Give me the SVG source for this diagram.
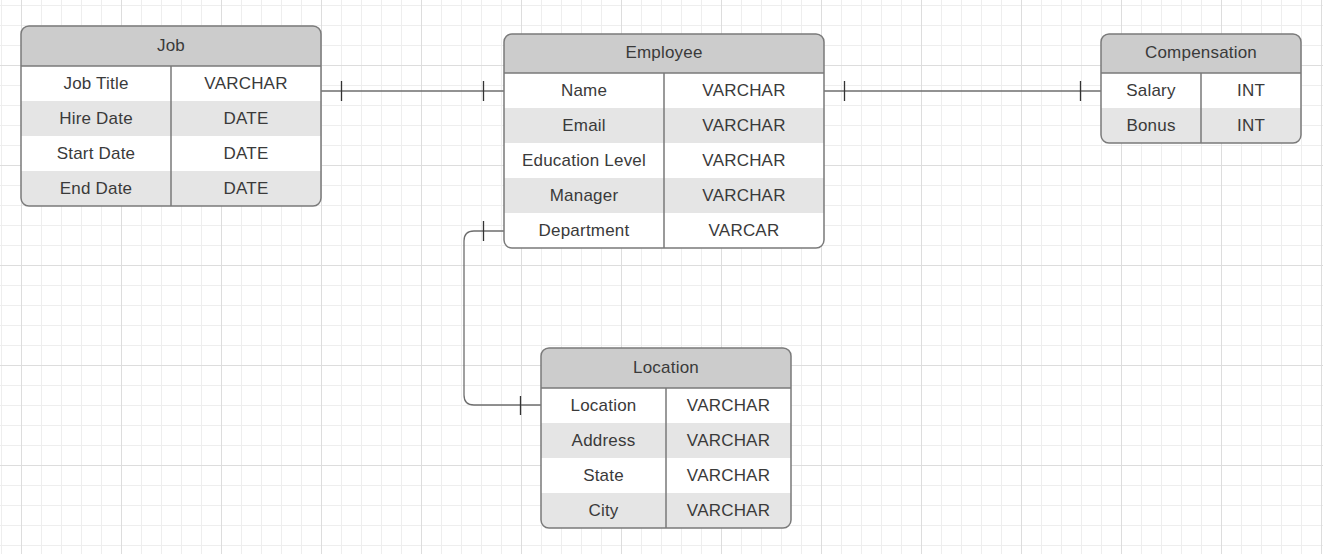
<svg xmlns="http://www.w3.org/2000/svg" width="1323" height="554" viewBox="0 0 1323 554">
<style>
.txt{font-family:"Liberation Sans",Arial,sans-serif;font-size:17px;fill:#3a3a3a;text-anchor:middle;letter-spacing:0.2px}
.frame{fill:none;stroke:#7a7a7a;stroke-width:1.5}
.sep{stroke:#7a7a7a;stroke-width:1.5}
.hdr{fill:#cccccc}
.alt{fill:#e5e5e5}
.bg{fill:#ffffff}
.conn{fill:none;stroke:#6e6e6e;stroke-width:1.3}
.tick{stroke:#333333;stroke-width:1.3}
</style>
<defs>
<pattern id="grid" x="1" y="5" width="100" height="100" patternUnits="userSpaceOnUse">
<path d="M0.5,0V100M20.5,0V100M40.5,0V100M60.5,0V100M80.5,0V100M0,0.5H100M0,20.5H100M0,40.5H100M0,60.5H100M0,80.5H100" stroke="#eeeeee" stroke-width="1" fill="none"/>
<path d="M20.5,0V100M0,60.5H100" stroke="#dddddd" stroke-width="1" fill="none"/>
</pattern>
<clipPath id="cJob"><rect x="21" y="26" width="300" height="180" rx="8"/></clipPath>
<clipPath id="cEmp"><rect x="504" y="34" width="320" height="214" rx="8"/></clipPath>
<clipPath id="cComp"><rect x="1101" y="34" width="200" height="109" rx="8"/></clipPath>
<clipPath id="cLoc"><rect x="541" y="348" width="250" height="180" rx="8"/></clipPath>
</defs>
<rect x="0" y="0" width="1323" height="554" fill="#ffffff"/>
<rect x="0" y="0" width="1323" height="554" fill="url(#grid)"/>

<g id="connectors">
<path class="conn" d="M321,91H504"/>
<path class="tick" d="M341.5,81V101M483.5,81V101"/>
<path class="conn" d="M824,91H1101"/>
<path class="tick" d="M844.5,81V101M1080.5,81V101"/>
<path class="conn" d="M504,231H474Q464,231 464,241V395Q464,405 474,405H541"/>
<path class="tick" d="M483.5,221V241M520.5,396V415"/>
</g>

<g id="job">
<g clip-path="url(#cJob)">
<rect class="bg" x="21" y="26" width="300" height="180"/>
<rect class="hdr" x="21" y="26" width="300" height="40"/>
<rect class="alt" x="21" y="101" width="300" height="35"/>
<rect class="alt" x="21" y="171" width="300" height="35"/>
</g>
<path class="sep" d="M21,66H321M171,66V206"/>
<rect class="frame" x="21" y="26" width="300" height="180" rx="8"/>
<text class="txt" x="171" y="51">Job</text>
<text class="txt" x="96" y="88.5">Job Title</text><text class="txt" x="246" y="88.5">VARCHAR</text>
<text class="txt" x="96" y="123.5">Hire Date</text><text class="txt" x="246" y="123.5">DATE</text>
<text class="txt" x="96" y="158.5">Start Date</text><text class="txt" x="246" y="158.5">DATE</text>
<text class="txt" x="96" y="193.5">End Date</text><text class="txt" x="246" y="193.5">DATE</text>
</g>

<g id="employee">
<g clip-path="url(#cEmp)">
<rect class="bg" x="504" y="34" width="320" height="214"/>
<rect class="hdr" x="504" y="34" width="320" height="39"/>
<rect class="alt" x="504" y="108" width="320" height="35"/>
<rect class="alt" x="504" y="178" width="320" height="35"/>
</g>
<path class="sep" d="M504,73H824M664,73V248"/>
<rect class="frame" x="504" y="34" width="320" height="214" rx="8"/>
<text class="txt" x="664" y="58">Employee</text>
<text class="txt" x="584" y="95.5">Name</text><text class="txt" x="744" y="95.5">VARCHAR</text>
<text class="txt" x="584" y="130.5">Email</text><text class="txt" x="744" y="130.5">VARCHAR</text>
<text class="txt" x="584" y="165.5">Education Level</text><text class="txt" x="744" y="165.5">VARCHAR</text>
<text class="txt" x="584" y="200.5">Manager</text><text class="txt" x="744" y="200.5">VARCHAR</text>
<text class="txt" x="584" y="235.5">Department</text><text class="txt" x="744" y="235.5">VARCAR</text>
</g>

<g id="compensation">
<g clip-path="url(#cComp)">
<rect class="bg" x="1101" y="34" width="200" height="109"/>
<rect class="hdr" x="1101" y="34" width="200" height="39"/>
<rect class="alt" x="1101" y="108" width="200" height="35"/>
</g>
<path class="sep" d="M1101,73H1301M1201,73V143"/>
<rect class="frame" x="1101" y="34" width="200" height="109" rx="8"/>
<text class="txt" x="1201" y="58">Compensation</text>
<text class="txt" x="1151" y="95.5">Salary</text><text class="txt" x="1251" y="95.5">INT</text>
<text class="txt" x="1151" y="130.5">Bonus</text><text class="txt" x="1251" y="130.5">INT</text>
</g>

<g id="location">
<g clip-path="url(#cLoc)">
<rect class="bg" x="541" y="348" width="250" height="180"/>
<rect class="hdr" x="541" y="348" width="250" height="40"/>
<rect class="alt" x="541" y="423" width="250" height="35"/>
<rect class="alt" x="541" y="493" width="250" height="35"/>
</g>
<path class="sep" d="M541,388H791M666,388V528"/>
<rect class="frame" x="541" y="348" width="250" height="180" rx="8"/>
<text class="txt" x="666" y="373">Location</text>
<text class="txt" x="603.5" y="410.5">Location</text><text class="txt" x="728.5" y="410.5">VARCHAR</text>
<text class="txt" x="603.5" y="445.5">Address</text><text class="txt" x="728.5" y="445.5">VARCHAR</text>
<text class="txt" x="603.5" y="480.5">State</text><text class="txt" x="728.5" y="480.5">VARCHAR</text>
<text class="txt" x="603.5" y="515.5">City</text><text class="txt" x="728.5" y="515.5">VARCHAR</text>
</g>
</svg>
